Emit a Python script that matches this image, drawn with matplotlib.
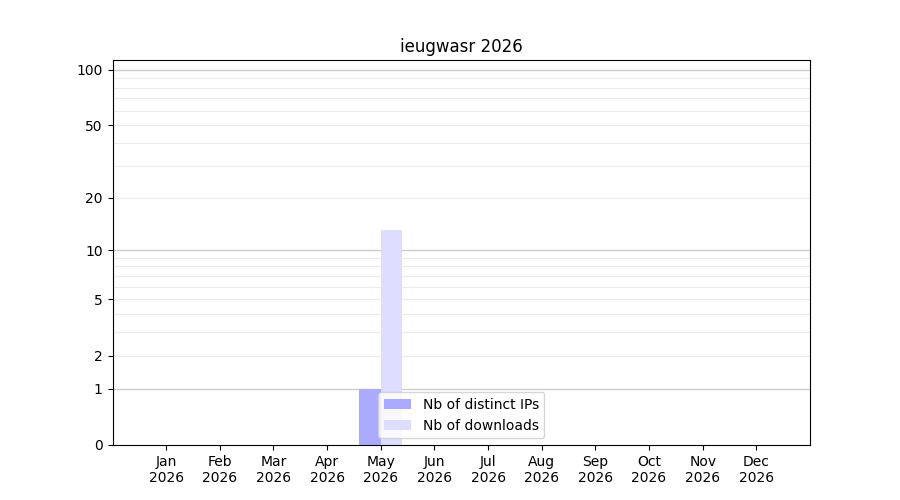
import matplotlib
matplotlib.use('Agg')
import matplotlib.pyplot as plt
import numpy as np

# données
months = ['Jan', 'Feb', 'Mar', 'Apr', 'May', 'Jun', 'Jul', 'Aug', 'Sep', 'Oct', 'Nov', 'Dec']
year = 2026
distinct_ips = [0, 0, 0, 0, 1, 0, 0, 0, 0, 0, 0, 0]
downloads = [0, 0, 0, 0, 13, 0, 0, 0, 0, 0, 0, 0]
yticks = [0, 1, 2, 5, 10, 20, 50, 100]
major_grid = [1, 10, 100]
minor_grid = [2, 3, 4, 5, 6, 7, 8, 9, 20, 30, 40, 50, 60, 70, 80, 90]


def fwd(y):
    return np.log10(1 + np.asarray(y, dtype=float).clip(min=0))


def inv(y):
    return 10 ** np.asarray(y, dtype=float) - 1


fig, ax = plt.subplots(figsize=(9, 5), dpi=100)
x = np.arange(1, 13)
ax.set_yscale('function', functions=(fwd, inv))

for v in minor_grid:
    ax.axhline(v, color='#ececec', lw=0.8, zorder=0)
for v in major_grid:
    ax.axhline(v, color='#cccccc', lw=1.0, zorder=0)

ax.bar(x - 0.2, distinct_ips, width=0.4, color='#aaaaff', label='Nb of distinct IPs', zorder=2)
ax.bar(x + 0.2, downloads, width=0.4, color='#ddddff', label='Nb of downloads', zorder=2)

ax.set_xticks(x)
ax.set_xticklabels([f'{m}\n{year}' for m in months])
ax.set_xlim(0, 13)
ax.set_yticks(yticks)
ax.set_yticklabels([str(t) for t in yticks])
ax.yaxis.set_minor_locator(matplotlib.ticker.NullLocator())
ax.set_ylim(0, 113)
ax.set_title(f'ieugwasr {year}')
ax.legend(loc='lower center')

fig.savefig('out.png')
